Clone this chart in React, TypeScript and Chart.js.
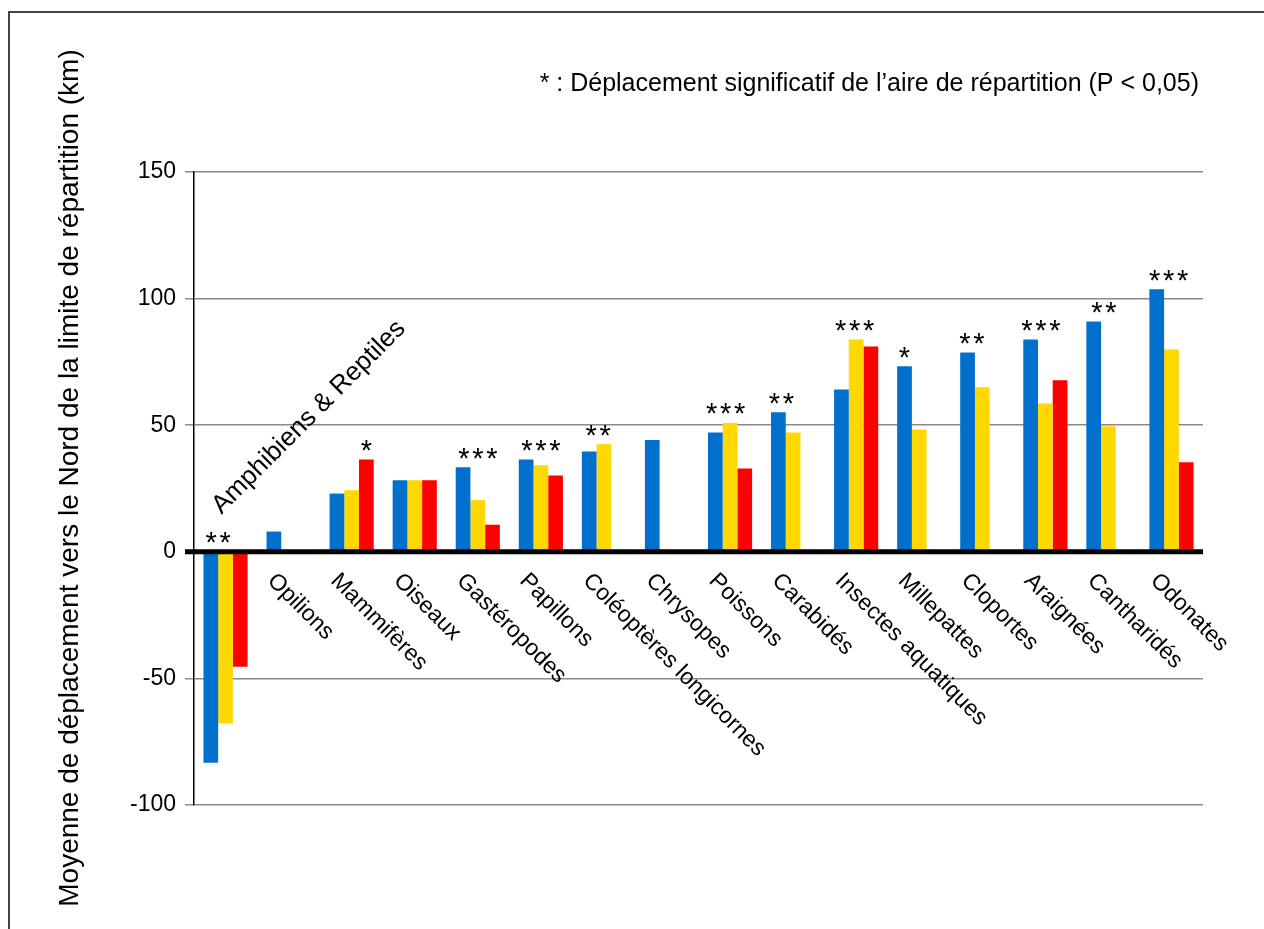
import { useEffect, useRef } from 'react';
import { Chart, registerables } from 'chart.js';

Chart.register(...registerables);

const categories = [
  'Amphibiens & Reptiles', 'Opilions', 'Mammifères', 'Oiseaux', 'Gastéropodes', 'Papillons',
  'Coléoptères longicornes', 'Chrysopes', 'Poissons', 'Carabidés', 'Insectes aquatiques',
  'Millepattes', 'Cloportes', 'Araignées', 'Cantharidés', 'Odonates',
];
const seriesBlue = [-83.3, 8, 23, 28.3, 33.4, 36.5, 39.6, 44.2, 47.1, 55.1, 64.1, 73.3, 78.7, 83.8, 91, 103.7];
const seriesYellow = [-67.8, null, 24.3, 28.3, 20.4, 34.2, 42.5, null, 50.9, 47.1, 83.8, 48.3, 65, 58.6, 49.6, 79.9];
const seriesRed = [-45.4, null, 36.5, 28.3, 10.7, 30.1, null, null, 32.9, null, 81.1, null, null, 67.8, null, 35.4];
const significance = ['**', '', '*', '', '***', '***', '**', '', '***', '**', '***', '*', '**', '***', '**', '***'];
const starAnchor = [0.5, 1, 2, 1, 1, 1, 0.6, 1, 0.7, 0.2, 0.9, 0, 0.3, 0.7, 0.7, 0.8];
const yTicks = [-100, -50, 0, 50, 100, 150];
const seriesColors = ['#0070CC', '#FFD800', '#FF0000'];
const yTitle = 'Moyenne de déplacement vers le Nord de la limite de répartition (km)';
const noteText = '* : Déplacement significatif de l’aire de répartition (P < 0,05)';

const FONT = '"Liberation Sans", Arial, sans-serif';

const overlayPlugin = {
  id: 'overlay',
  afterDatasetsDraw(chart: any) {
    const ctx = chart.ctx as CanvasRenderingContext2D;
    const area = chart.chartArea;
    const ys = chart.scales.y;
    const xs = chart.scales.x;
    const zeroY = ys.getPixelForValue(0);
    ctx.save();
    // zero line
    ctx.strokeStyle = '#000';
    ctx.lineWidth = 5;
    ctx.beginPath();
    ctx.moveTo(area.left - 9, zeroY);
    ctx.lineTo(area.right, zeroY);
    ctx.stroke();

    const metas = [0, 1, 2].map((d) => chart.getDatasetMeta(d));
    const data = [seriesBlue, seriesYellow, seriesRed];

    // category labels
    ctx.fillStyle = '#000';
    categories.forEach((label, i) => {
      const cx = xs.getPixelForValue(i);
      const allNeg = data.every((s) => s[i] == null || (s[i] as number) < 0);
      ctx.save();
      if (allNeg) {
        ctx.font = `26px ${FONT}`;
        ctx.translate(cx - 4, zeroY - 37);
        ctx.rotate(-Math.PI / 4);
      } else {
        ctx.font = `23px ${FONT}`;
        ctx.translate(cx - 22, zeroY + 30);
        ctx.rotate(Math.PI / 4);
      }
      ctx.textAlign = 'left';
      ctx.textBaseline = 'alphabetic';
      ctx.fillText(label, 0, 0);
      ctx.restore();
    });

    // significance stars
    ctx.font = `29px ${FONT}`;
    ctx.textAlign = 'center';
    ctx.textBaseline = 'alphabetic';
    const m = ctx.measureText('*');
    const baseOff = (m.actualBoundingBoxAscent - m.actualBoundingBoxDescent) / 2;
    significance.forEach((stars, i) => {
      if (!stars) return;
      const b0 = metas[0].data[i];
      const barW = b0.width;
      const sx = b0.x + starAnchor[i] * barW;
      let top = zeroY;
      data.forEach((s, d) => {
        const v = s[i];
        if (v != null && v > 0) top = Math.min(top, metas[d].data[i].y);
      });
      const cy = top - 14;
      const n = stars.length;
      for (let k = 0; k < n; k++) {
        ctx.fillText('*', sx + (k - (n - 1) / 2) * 14, cy + baseOff);
      }
    });

    // y axis title
    ctx.save();
    ctx.font = `28px ${FONT}`;
    ctx.textAlign = 'center';
    ctx.textBaseline = 'alphabetic';
    ctx.translate(78, 478);
    ctx.rotate(-Math.PI / 2);
    ctx.fillText(yTitle, 0, 0);
    ctx.restore();

    // note
    ctx.font = `25px ${FONT}`;
    ctx.textAlign = 'right';
    ctx.textBaseline = 'alphabetic';
    ctx.fillText(noteText, 1199, 91);

    // frame
    ctx.strokeStyle = '#444';
    ctx.lineWidth = 2;
    ctx.beginPath();
    ctx.moveTo(9, 929);
    ctx.lineTo(9, 12);
    ctx.lineTo(1264, 12);
    ctx.stroke();
    ctx.restore();
  },
};

export default function App() {
  const ref = useRef<HTMLCanvasElement>(null);
  useEffect(() => {
    if (!ref.current) return;
    const chart = new Chart(ref.current, {
      type: 'bar',
      data: {
        labels: categories,
        datasets: [
          { data: seriesBlue, backgroundColor: seriesColors[0] },
          { data: seriesYellow, backgroundColor: seriesColors[1] },
          { data: seriesRed, backgroundColor: seriesColors[2] },
        ],
      },
      options: {
        responsive: false,
        animation: false,
        devicePixelRatio: 1,
        datasets: { bar: { categoryPercentage: 0.7, barPercentage: 1 } },
        layout: { padding: { top: 172, bottom: 124, left: 0, right: 61 } },
        plugins: { legend: { display: false }, tooltip: { enabled: false } },
        scales: {
          x: { display: false, grid: { display: false } },
          y: {
            min: -100,
            max: 150,
            afterFit: (scale: any) => { scale.width = 194; },
            afterBuildTicks: (scale: any) => { scale.ticks = yTicks.map((v) => ({ value: v })); },
            ticks: {
              color: '#000',
              padding: 9,
              font: { family: FONT, size: 23 },
              callback: (v: any) => String(v),
            },
            grid: {
              color: (c: any) => (c.tick && c.tick.value === 0 ? 'rgba(0,0,0,0)' : '#8a8a8a'),
              lineWidth: 1.5,
              tickLength: 9,
            },
            border: { display: true, color: '#000', width: 1.5 },
          },
        },
      },
      plugins: [overlayPlugin],
    });
    return () => chart.destroy();
  }, []);
  return (
    <div style={{ position: 'fixed', left: 0, top: 0, width: 1264, height: 929, background: '#fff' }}>
      <canvas ref={ref} width={1264} height={929} />
    </div>
  );
}
